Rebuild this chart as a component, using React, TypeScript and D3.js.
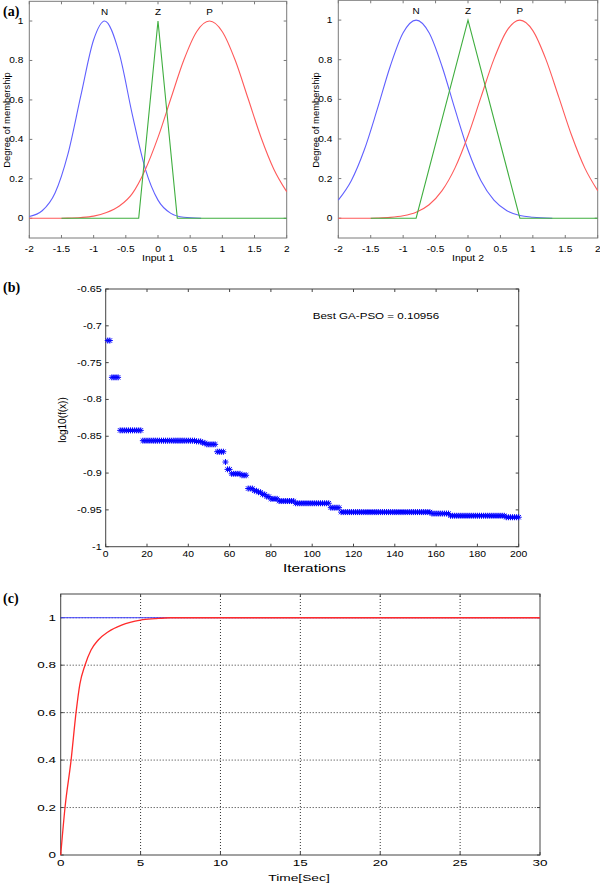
import React from 'react';
import * as d3 from 'd3';

// ---------- Panel (a) data: membership functions ----------
const xs21 = [-2, -1.8, -1.6, -1.4, -1.2, -1.0, -0.8, -0.6, -0.4, -0.2, 0, 0.2, 0.4, 0.6, 0.8, 1.0, 1.2, 1.4, 1.6, 1.8, 2.0];

const in1N_x = [-2, -1.8, -1.6, -1.4, -1.2, -1.0, -0.83, -0.6, -0.4, -0.2, 0, 0.2, 0.4, 0.67];
const in1N_y = [0.009, 0.038, 0.128, 0.325, 0.62, 0.905, 1, 0.833, 0.527, 0.253, 0.092, 0.025, 0.005, 0];
const in1Z_x = [-1.5, -0.3, 0, 0.3, 2];
const in1Z_y = [0, 0, 1, 0, 0];
const in1P_y = [0, 0, 0, 0.001, 0.004, 0.011, 0.029, 0.062, 0.125, 0.245, 0.41, 0.607, 0.801, 0.946, 1, 0.946, 0.801, 0.607, 0.411, 0.249, 0.135];

const in2N_x = [-2, -1.8, -1.6, -1.4, -1.2, -1.0, -0.8, -0.6, -0.4, -0.2, 0, 0.2, 0.4, 0.6, 0.8, 1.0, 1.3];
const in2N_y = [0.091, 0.189, 0.344, 0.549, 0.766, 0.936, 1, 0.936, 0.766, 0.549, 0.344, 0.189, 0.091, 0.038, 0.014, 0.005, 0];
const in2Z_x = [-1.5, -0.8, 0, 0.8, 2];
const in2Z_y = [0, 0, 1, 0, 0];
const in2P_y = [0, 0, 0, 0.001, 0.004, 0.012, 0.03, 0.068, 0.139, 0.254, 0.416, 0.611, 0.803, 0.947, 1, 0.947, 0.803, 0.611, 0.416, 0.254, 0.139];

const mfLabels = ['N', 'Z', 'P'];
const mfLabelX1 = [-0.83, 0, 0.8];
const mfLabelX2 = [-0.8, 0, 0.8];
const aXTicks = [-2, -1.5, -1, -0.5, 0, 0.5, 1, 1.5, 2];
const aYTicks = [0, 0.2, 0.4, 0.6, 0.8, 1];

// ---------- Panel (b) data: best fitness per iteration (run length: count, value) ----------
const fitnessRunCounts = [2, 4, 11, 26, 3, 2, 5, 4, 1, 2, 5, 3, 3, 2, 2, 2, 2, 4, 8, 17, 5, 44, 9, 27, 7];
const fitnessRunValues = [-0.72, -0.77, -0.842, -0.856, -0.857, -0.859, -0.861, -0.871, -0.885, -0.895, -0.901, -0.903, -0.921, -0.924, -0.926, -0.929, -0.932, -0.935, -0.938, -0.941, -0.947, -0.953, -0.955, -0.958, -0.96];
const bXTicks = [0, 20, 40, 60, 80, 100, 120, 140, 160, 180, 200];
const bYTicks = [-1, -0.95, -0.9, -0.85, -0.8, -0.75, -0.7, -0.65];
const bYTickLabels = ['-1', '-0.95', '-0.9', '-0.85', '-0.8', '-0.75', '-0.7', '-0.65'];

// ---------- Panel (c) data: step response ----------
const refT = [0, 30];
const refY = [1, 1];
const respT = [0, 0.27, 0.65, 0.96, 1.2, 1.52, 1.9, 2.35, 2.98, 3.81, 5, 5.9, 6.83, 30];
const respY = [0, 0.2, 0.4, 0.6, 0.72, 0.8, 0.864, 0.906, 0.941, 0.969, 0.99, 0.996, 1, 1];
const cXTicks = [0, 5, 10, 15, 20, 25, 30];
const cYTicks = [0, 0.2, 0.4, 0.6, 0.8, 1];

const SANS = 'Liberation Sans, Arial, sans-serif';
const SERIF = 'Liberation Serif, Times New Roman, serif';

function Txt(props: any) {
  const { x, y, sx = 1, anchor = 'middle', size = 10, family = SANS, weight = 'normal', rotate = 0, fill = '#000', children } = props;
  return (
    <text
      transform={`translate(${x},${y}) rotate(${rotate}) scale(${sx},1)`}
      textAnchor={anchor}
      fontSize={size}
      fontFamily={family}
      fontWeight={weight}
      fill={fill}
    >
      {children}
    </text>
  );
}

function Frame(props: any) {
  const { xs, ys, xTicks, yTicks, color = '#555', tl = 3 } = props;
  const [x0, x1] = xs.range();
  const [y0, y1] = ys.range(); // y0 bottom, y1 top
  return (
    <g stroke={color} strokeWidth={1} fill="none">
      <rect x={x0} y={y1} width={x1 - x0} height={y0 - y1} />
      {xTicks.map((t: number, i: number) => (
        <g key={'x' + i}>
          <line x1={xs(t)} x2={xs(t)} y1={y0} y2={y0 - tl} />
          <line x1={xs(t)} x2={xs(t)} y1={y1} y2={y1 + tl} />
        </g>
      ))}
      {yTicks.map((t: number, i: number) => (
        <g key={'y' + i}>
          <line x1={x0} x2={x0 + tl} y1={ys(t)} y2={ys(t)} />
          <line x1={x1} x2={x1 - tl} y1={ys(t)} y2={ys(t)} />
        </g>
      ))}
    </g>
  );
}

function MFPanel(props: any) {
  const { x0, x1, yB, yT, nx, ny, zx, zy, py, labelX, xlabel, ylabelX } = props;
  const xs = d3.scaleLinear().domain([-2, 2]).range([x0, x1]);
  const ys = d3.scaleLinear().domain([-0.1, 1.1]).range([yB, yT]);
  const line = d3.line<[number, number]>().x(d => xs(d[0])).y(d => ys(d[1])).curve(d3.curveMonotoneX);
  const lin = d3.line<[number, number]>().x(d => xs(d[0])).y(d => ys(d[1]));
  const nPts = nx.map((v: number, i: number) => [v, ny[i]] as [number, number]);
  const pPts = xs21.map((v, i) => [v, py[i]] as [number, number]);
  const zPts = zx.map((v: number, i: number) => [v, zy[i]] as [number, number]);
  return (
    <g>
      <Frame xs={xs} ys={ys} xTicks={aXTicks} yTicks={aYTicks} color="#7a7a7a" tl={3} />
      <path d={line(nPts) || ''} fill="none" stroke="#6060ff" strokeWidth={1.1} />
      <path d={line(pPts) || ''} fill="none" stroke="#ff5a5a" strokeWidth={1.1} />
      <path d={lin(zPts) || ''} fill="none" stroke="#3fae3f" strokeWidth={1.1} />
      {aXTicks.map((t, i) => (
        <Txt key={'xt' + i} x={xs(t)} y={251.5} size={8.8} sx={1.15}>{String(t)}</Txt>
      ))}
      {aYTicks.map((t, i) => (
        <Txt key={'yt' + i} x={x0 - 6} y={ys(t) + 3} size={8.8} sx={1.15} anchor="end">{String(t)}</Txt>
      ))}
      {mfLabels.map((l, i) => (
        <Txt key={'l' + i} x={xs(labelX[i])} y={props.labelY} size={9} sx={1.1}>{l}</Txt>
      ))}
      <Txt x={(x0 + x1) / 2} y={260.5} size={9.5} sx={1.1}>{xlabel}</Txt>
      <Txt x={ylabelX} y={120} size={9.4} rotate={-90}>Degree of membership</Txt>
    </g>
  );
}

function PanelB() {
  const xs = d3.scaleLinear().domain([0, 200]).range([105.7, 518.7]);
  const ys = d3.scaleLinear().domain([-1, -0.65]).range([546.7, 289]);
  const pts: [number, number][] = [];
  let it = 1;
  fitnessRunCounts.forEach((c, k) => {
    for (let j = 0; j < c; j++) {
      pts.push([it, fitnessRunValues[k]]);
      it++;
    }
  });
  const r = 3;
  const d = 2.2;
  const star = pts
    .map(([i, v]) => {
      const x = xs(i);
      const y = ys(v);
      return `M${x - r},${y}h${2 * r}M${x},${y - r}v${2 * r}M${x - d},${y - d}l${2 * d},${2 * d}M${x - d},${y + d}l${2 * d},${-2 * d}`;
    })
    .join('');
  return (
    <g>
      <Frame xs={xs} ys={ys} xTicks={bXTicks} yTicks={bYTicks} color="#444" tl={3} />
      <path d={star} stroke="#0000ff" strokeWidth={1} fill="none" />
      {bXTicks.map((t, i) => (
        <Txt key={'xt' + i} x={xs(t)} y={557} size={9} sx={1.15}>{String(t)}</Txt>
      ))}
      {bYTicks.map((t, i) => (
        <Txt key={'yt' + i} x={101.7} y={ys(t) + 3} size={9} sx={1.2} anchor="end">{bYTickLabels[i]}</Txt>
      ))}
      <Txt x={314.5} y={572.3} size={11.2} sx={1.37}>Iterations</Txt>
      <Txt x={66} y={420} size={10} rotate={-90}>log10(f(x))</Txt>
      <Txt x={312.7} y={318.5} size={8.4} sx={1.38} anchor="start">Best GA-PSO = 0.10956</Txt>
    </g>
  );
}

function PanelC() {
  const xs = d3.scaleLinear().domain([0, 30]).range([60.7, 540]);
  const ys = d3.scaleLinear().domain([0, 1.1]).range([855, 594]);
  const [x0, x1] = xs.range();
  const line = d3.line<[number, number]>().x(d => xs(d[0])).y(d => ys(d[1])).curve(d3.curveMonotoneX);
  const ref = refT.map((t, i) => [t, refY[i]] as [number, number]);
  const resp = respT.map((t, i) => [t, respY[i]] as [number, number]);
  return (
    <g>
      <g stroke="#333" strokeWidth={1} strokeDasharray="1 2" fill="none">
        {cXTicks.slice(1, -1).map((t, i) => (
          <line key={'gx' + i} x1={xs(t)} x2={xs(t)} y1={855} y2={594} />
        ))}
        {cYTicks.slice(1).map((t, i) => (
          <line key={'gy' + i} x1={x0} x2={x1} y1={ys(t)} y2={ys(t)} />
        ))}
      </g>
      <Frame xs={xs} ys={ys} xTicks={cXTicks} yTicks={cYTicks} color="#444" tl={3} />
      <path d={line(ref) || ''} fill="none" stroke="#4040ff" strokeWidth={1} />
      <path d={line(resp) || ''} fill="none" stroke="#ff2a2a" strokeWidth={1.3} />
      {cXTicks.map((t, i) => (
        <Txt key={'xt' + i} x={xs(t)} y={866} size={9.3} sx={1.45}>{String(t)}</Txt>
      ))}
      {cYTicks.map((t, i) => (
        <Txt key={'yt' + i} x={56} y={ys(t) + 3.3} size={9.3} sx={1.45} anchor="end">{String(t)}</Txt>
      ))}
      <Txt x={299} y={880.5} size={9.5} sx={1.45}>Time[Sec]</Txt>
    </g>
  );
}

export default function App() {
  return (
    <svg width={600} height={883} style={{ position: 'absolute', left: 0, top: 0, background: '#fff' }}>
      <rect x={0} y={0} width={600} height={883} fill="#fff" />
      <MFPanel
        x0={29.3} x1={286.7} yB={238.0} yT={1.3}
        nx={in1N_x} ny={in1N_y} zx={in1Z_x} zy={in1Z_y} py={in1P_y}
        labelX={mfLabelX1} labelY={15} xlabel="Input 1" ylabelX={10}
      />
      <MFPanel
        x0={338.3} x1={597.7} yB={238.0} yT={0.3}
        nx={in2N_x} ny={in2N_y} zx={in2Z_x} zy={in2Z_y} py={in2P_y}
        labelX={mfLabelX2} labelY={14} xlabel="Input 2" ylabelX={319}
      />
      <PanelB />
      <PanelC />
      <Txt x={3} y={16} size={14} family={SERIF} weight="bold" anchor="start">(a)</Txt>
      <Txt x={3} y={292} size={14} family={SERIF} weight="bold" anchor="start">(b)</Txt>
      <Txt x={3} y={603} size={14} family={SERIF} weight="bold" anchor="start">(c)</Txt>
    </svg>
  );
}
